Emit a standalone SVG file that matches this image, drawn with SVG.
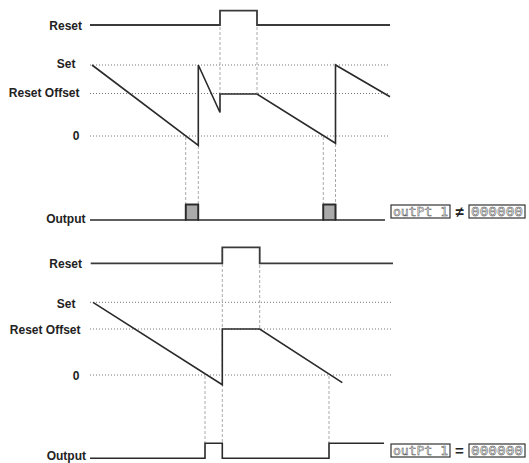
<svg xmlns="http://www.w3.org/2000/svg" width="529" height="463" viewBox="0 0 529 463">
<style>
.lbl{font-family:"Liberation Sans",Arial,sans-serif;font-weight:bold;font-size:12px;fill:#222;text-anchor:end}
.sig{fill:none;stroke:#2a2a2a;stroke-width:1.6;stroke-linejoin:miter}
.rst{fill:none;stroke:#3a3a3a;stroke-width:1.8}
.dot{stroke:#777;stroke-width:1;stroke-dasharray:1 2;fill:none}
.guide{stroke:#aaa;stroke-width:1;stroke-dasharray:3 2;fill:none}
.pulse{fill:#aaa;stroke:#2a2a2a;stroke-width:1.6}
.disp{fill:#fff;stroke:#333;stroke-width:1.2}
.seg{font-family:"DejaVu Sans Mono",monospace;font-size:12px;font-weight:normal;fill:#fff;stroke:#444;stroke-width:0.45}
.op{font-family:"Liberation Sans",Arial,sans-serif;font-weight:bold;font-size:15px;fill:#222;text-anchor:middle}
</style>

<g id="top-labels">
<text class="lbl" x="82" y="29.5">Reset</text>
<text class="lbl" x="75.5" y="68">Set</text>
<text class="lbl" x="79.5" y="97">Reset Offset</text>
<text class="lbl" x="79.5" y="140">0</text>
<text class="lbl" x="85.5" y="223">Output</text>
</g>

<g id="top-grid">
<line class="dot" x1="90" y1="65" x2="390" y2="65"/>
<line class="dot" x1="90" y1="93.5" x2="390" y2="93.5"/>
<line class="dot" x1="90" y1="136" x2="390" y2="136"/>
</g>

<g id="top-guides">
<line class="guide" x1="220" y1="27" x2="220" y2="93"/>
<line class="guide" x1="257" y1="27" x2="257" y2="93"/>
<line class="guide" x1="185.7" y1="137" x2="185.7" y2="204"/>
<line class="guide" x1="198.3" y1="146" x2="198.3" y2="204"/>
<line class="guide" x1="323.3" y1="137" x2="323.3" y2="204"/>
<line class="guide" x1="335.5" y1="144" x2="335.5" y2="204"/>
</g>

<g id="top-reset">
<polyline class="rst" points="90,25 220,25 220,10.7 257,10.7 257,25 390,25"/>
</g>

<g id="top-value">
<polyline class="sig" points="92,65 198.3,145.5 198.3,65 220,112.5 220,94 257,94 335.5,143.3 335.5,65 390,96.7"/>
</g>

<g id="top-output">
<rect class="pulse" x="185.7" y="204.5" width="12.6" height="15.5"/>
<rect class="pulse" x="323.3" y="204.5" width="12.2" height="15.5"/>
<polyline class="sig" points="90,220 185.7,220 185.7,204.5 198.3,204.5 198.3,220 323.3,220 323.3,204.5 335.5,204.5 335.5,220 385,220"/>
</g>

<g id="top-display">
<rect class="disp" x="391" y="205" width="59" height="13"/>
<text class="seg" x="393" y="216" textLength="55" lengthAdjust="spacingAndGlyphs">outPt 1</text>
<text class="op" x="459.5" y="217">≠</text>
<rect class="disp" x="469" y="205" width="56" height="13"/>
<text class="seg" x="471" y="216" textLength="52" lengthAdjust="spacingAndGlyphs">000000</text>
</g>

<g id="bottom-labels">
<text class="lbl" x="82" y="267.5">Reset</text>
<text class="lbl" x="75.5" y="307.5">Set</text>
<text class="lbl" x="80.5" y="334">Reset Offset</text>
<text class="lbl" x="79.5" y="380">0</text>
<text class="lbl" x="86" y="459.5">Output</text>
</g>

<g id="bottom-grid">
<line class="dot" x1="90" y1="302.3" x2="392" y2="302.3"/>
<line class="dot" x1="90" y1="329" x2="392" y2="329"/>
<line class="dot" x1="90" y1="375" x2="392" y2="375"/>
</g>

<g id="bottom-guides">
<line class="guide" x1="222.3" y1="249" x2="222.3" y2="443"/>
<line class="guide" x1="259.7" y1="265" x2="259.7" y2="328"/>
<line class="guide" x1="205" y1="376" x2="205" y2="443"/>
<line class="guide" x1="329" y1="376" x2="329" y2="443"/>
</g>

<g id="bottom-reset">
<polyline class="rst" points="90.7,263.3 222.3,263.3 222.3,247.3 259.7,247.3 259.7,263.3 393,263.3"/>
</g>

<g id="bottom-value">
<polyline class="sig" points="93,302.3 222.3,384.7 222.3,329 259.7,329 342.3,382.7"/>
</g>

<g id="bottom-output">
<polyline class="sig" points="90,458.3 205,458.3 205,443.3 222.3,443.3 222.3,458.3 329,458.3 329,443.3 384,443.3"/>
</g>

<g id="bottom-display">
<rect class="disp" x="391" y="444" width="59" height="13"/>
<text class="seg" x="393" y="455" textLength="55" lengthAdjust="spacingAndGlyphs">outPt 1</text>
<text class="op" x="459.5" y="456">=</text>
<rect class="disp" x="469" y="444" width="56" height="13"/>
<text class="seg" x="471" y="455" textLength="52" lengthAdjust="spacingAndGlyphs">000000</text>
</g>
</svg>
